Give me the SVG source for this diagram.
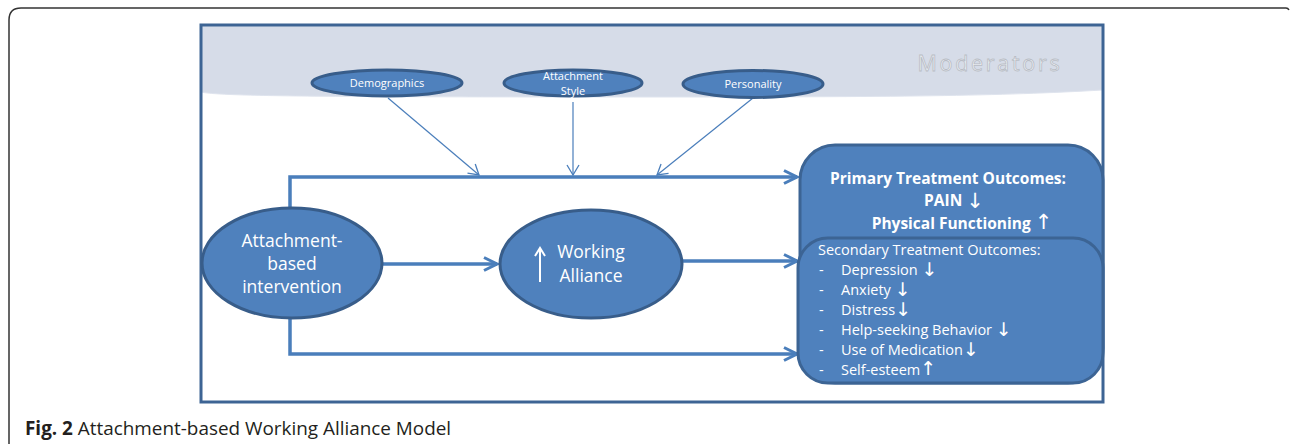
<svg xmlns="http://www.w3.org/2000/svg" width="1290" height="444" viewBox="0 0 1290 444">
<defs>
<style>
.node{fill:#4f81bd;stroke:#385d8a;stroke-width:3}
.box{fill:#4f81bd;stroke:#3c6494;stroke-width:3}
.wt{fill:#ffffff;font-family:"Open Sans","DejaVu Sans",sans-serif}
.thick{fill:none;stroke:#4a7ebb;stroke-width:3.5}
.thin{fill:none;stroke:#4a7ebb;stroke-width:1.2}
.arr{font-family:"DejaVu Sans",sans-serif;font-weight:normal}
</style>
<marker id="bigHead" markerUnits="userSpaceOnUse" viewBox="-16 -9 19 18" refX="0" refY="0" markerWidth="19" markerHeight="18" orient="auto">
<path d="M-13,-6.5 L0,0 L-13,6.5" fill="none" stroke="#4a7ebb" stroke-width="3"/>
</marker>
<marker id="thinHead" markerUnits="userSpaceOnUse" viewBox="-13 -8 15 16" refX="0" refY="0" markerWidth="15" markerHeight="16" orient="auto">
<path d="M-10,-6 L0,0 L-10,6" fill="none" stroke="#4a7ebb" stroke-width="1.3"/>
</marker>
<marker id="whiteHead" markerUnits="userSpaceOnUse" viewBox="-10 -8 12 16" refX="0" refY="0" markerWidth="12" markerHeight="16" orient="auto">
<path d="M-8,-5 L0,0 L-8,5" fill="none" stroke="#ffffff" stroke-width="2"/>
</marker>
</defs>
<rect width="1290" height="444" fill="#ffffff"/>
<path d="M9,444 V20 Q9,8 21,8 H1286 Q1288,8 1289,10" fill="none" stroke="#333333" stroke-width="1.5"/>
<g id="frame">
<rect x="201" y="25" width="902" height="377" fill="#ffffff"/>
<path d="M201,26 H1102 V90 C1000,96 900,97 650,97 C300,97 220,96 201,92 Z" fill="#d6dce8" stroke="#dfe4ee" stroke-width="1"/>
<rect x="201" y="25" width="902" height="377" fill="none" stroke="#3d6494" stroke-width="3"/>
<text x="990" y="71" text-anchor="middle" font-family="Open Sans, sans-serif" font-size="21.5" letter-spacing="2.7" fill="#edf0f5" stroke="#b8bcc4" stroke-width="0.8">Moderators</text>
</g>
<g id="connectors">
<line class="thin" x1="388" y1="98" x2="479" y2="175" marker-end="url(#thinHead)"/>
<line class="thin" x1="573" y1="102" x2="573" y2="175" marker-end="url(#thinHead)"/>
<line class="thin" x1="753" y1="98" x2="657" y2="175" marker-end="url(#thinHead)"/>
<polyline class="thick" points="290,208 290,177 797,177" marker-end="url(#bigHead)"/>
<polyline class="thick" points="290,318 290,354 797,354" marker-end="url(#bigHead)"/>
<line class="thick" x1="383" y1="264" x2="497" y2="264" marker-end="url(#bigHead)"/>
<line class="thick" x1="683" y1="261" x2="797" y2="261" marker-end="url(#bigHead)"/>
</g>
<g id="demographics">
<ellipse class="node" cx="387" cy="83" rx="75" ry="13"/>
<text class="wt" x="387" y="87" text-anchor="middle" font-size="11">Demographics</text>
</g>
<g id="attachment-style">
<ellipse class="node" cx="573" cy="83" rx="69" ry="13"/>
<text class="wt" x="573" y="80" text-anchor="middle" font-size="11">Attachment</text>
<text class="wt" x="573" y="95" text-anchor="middle" font-size="11">Style</text>
</g>
<g id="personality">
<ellipse class="node" cx="753" cy="84" rx="70" ry="13.5"/>
<text class="wt" x="753" y="88" text-anchor="middle" font-size="11">Personality</text>
</g>
<g id="intervention">
<ellipse class="node" cx="292" cy="263" rx="90" ry="55"/>
<text class="wt" x="292" y="247" text-anchor="middle" font-size="17.5">Attachment-</text>
<text class="wt" x="292" y="270" text-anchor="middle" font-size="17.5">based</text>
<text class="wt" x="292" y="293" text-anchor="middle" font-size="17.5">intervention</text>
</g>
<g id="working-alliance">
<ellipse class="node" cx="591" cy="264" rx="91" ry="54"/>
<line x1="540" y1="282" x2="540" y2="248" stroke="#ffffff" stroke-width="2" marker-end="url(#whiteHead)"/>
<text class="wt" x="591" y="258" text-anchor="middle" font-size="17.5">Working</text>
<text class="wt" x="591" y="282" text-anchor="middle" font-size="17.5">Alliance</text>
</g>
<g id="primary-outcomes">
<rect class="box" x="800" y="145" width="303" height="238" rx="35"/>
<text class="wt" x="948" y="184" text-anchor="middle" font-size="15.5" font-weight="bold">Primary Treatment Outcomes:</text>
<text class="wt" x="954" y="206" text-anchor="middle" font-size="15.5" font-weight="bold">PAIN <tspan class="arr" font-size="21" dy="2">↓</tspan></text>
<text class="wt" x="962" y="229" text-anchor="middle" font-size="15.5" font-weight="bold">Physical Functioning <tspan class="arr" font-size="21">↑</tspan></text>
</g>
<g id="secondary-outcomes">
<rect class="box" x="798" y="238" width="305" height="145" rx="30"/>
<text class="wt" x="818" y="255" font-size="14.5">Secondary Treatment Outcomes:</text>
<g class="wt" font-size="14.5">
<text x="819" y="275">-</text><text x="841" y="275">Depression <tspan class="arr" font-size="19" dy="1">↓</tspan></text>
<text x="819" y="295">-</text><text x="841" y="295">Anxiety <tspan class="arr" font-size="19" dy="1">↓</tspan></text>
<text x="819" y="315">-</text><text x="841" y="315">Distress<tspan class="arr" font-size="19" dy="1">↓</tspan></text>
<text x="819" y="335">-</text><text x="841" y="335">Help-seeking Behavior <tspan class="arr" font-size="19" dy="1">↓</tspan></text>
<text x="819" y="355">-</text><text x="841" y="355">Use of Medication<tspan class="arr" font-size="19" dy="1">↓</tspan></text>
<text x="819" y="375">-</text><text x="841" y="375">Self-esteem<tspan class="arr" font-size="19">↑</tspan></text>
</g>
</g>
<g id="caption">
<text x="25" y="435" font-family="Open Sans, sans-serif" font-size="18.9" fill="#231f20"><tspan font-weight="bold">Fig. 2</tspan> Attachment-based Working Alliance Model</text>
</g>
</svg>
